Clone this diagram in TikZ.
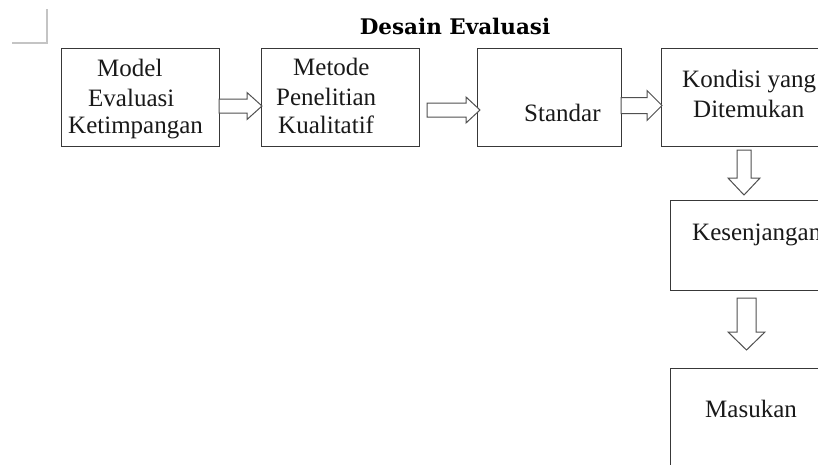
\documentclass[tikz,border=0pt]{standalone}
\usepackage{fontspec}
\setmainfont{Liberation Serif}
\newfontfamily\titlefont{DejaVu Serif}
\definecolor{boxline}{HTML}{383838}
\definecolor{arrline}{HTML}{505050}
\definecolor{markgray}{HTML}{C4C4C4}
\newcommand\blkright[6]{% tailx, cy, shafthalf, headx, headhalf, tipx
  \draw[blockarr] (#1,#2-#3) -- (#4,#2-#3) -- (#4,#2-#5) -- (#6,#2) -- (#4,#2+#5) -- (#4,#2+#3) -- (#1,#2+#3) -- cycle;}
\newcommand\blkdown[6]{% cx, taily, shafthalf, heady, headhalf, tipy
  \draw[blockarr] (#1-#3,#2) -- (#1-#3,#4) -- (#1-#5,#4) -- (#1,#6) -- (#1+#5,#4) -- (#1+#3,#4) -- (#1+#3,#2) -- cycle;}
\begin{document}
\begin{tikzpicture}[x=1pt,y=-1pt,
  box/.style={draw=boxline, line width=1.3pt, fill=white, rectangle, inner sep=0pt, anchor=north west},
  lbl/.style={anchor=base west, inner sep=0pt, font=\fontsize{25}{30}\selectfont, text=black!90},
  blockarr/.style={draw=arrline, line width=1pt, fill=white, line join=miter}]
\useasboundingbox (0,0) rectangle (818,464);
\clip (0,0) rectangle (818,464);
\fill[white] (0,0) rectangle (818,464);
% corner mark
\draw[markgray, line width=1.2pt] (12,43) -- (47,43) -- (47,9);
% title
\node[anchor=base, inner sep=0pt, font=\titlefont\bfseries\fontsize{21.5}{25}\selectfont] (title) at (455,34) {Desain Evaluasi};
% boxes
\node[box, minimum width=158pt, minimum height=98pt] (b1) at (61,48) {};
\node[box, minimum width=158pt, minimum height=98pt] (b2) at (261,48) {};
\node[box, minimum width=144pt, minimum height=98pt] (b3) at (477,48) {};
\node[box, minimum width=175pt, minimum height=98pt] (b4) at (661,48) {};
\node[box, minimum width=175pt, minimum height=90pt] (b5) at (670,200) {};
\node[box, minimum width=175pt, minimum height=120pt] (b6) at (670,368) {};
% texts
\node[lbl] (t1a) at (97,76) {Model};
\node[lbl] (t1b) at (88,106) {Evaluasi};
\node[lbl] (t1c) at (68,133) {Ketimpangan};
\node[lbl] (t2a) at (293,75) {Metode};
\node[lbl] (t2b) at (276,105) {Penelitian};
\node[lbl] (t2c) at (278,133) {Kualitatif};
\node[lbl] (t3) at (524,121) {Standar};
\node[lbl] (t4a) at (682,87) {Kondisi yang};
\node[lbl] (t4b) at (693,117) {Ditemukan};
\node[lbl] (t5) at (692,240) {Kesenjangan};
\node[lbl] (t6) at (705,417) {Masukan};
% block arrows
\blkright{219}{106}{7}{247}{13.5}{262}
\blkright{427}{110}{7}{466}{13}{480}
\blkright{621}{105.5}{8}{647}{15}{662}
\blkdown{744}{150}{7}{178}{16}{195}
\blkdown{746.5}{298}{9.5}{332}{18.5}{350}
\end{tikzpicture}
\end{document}
